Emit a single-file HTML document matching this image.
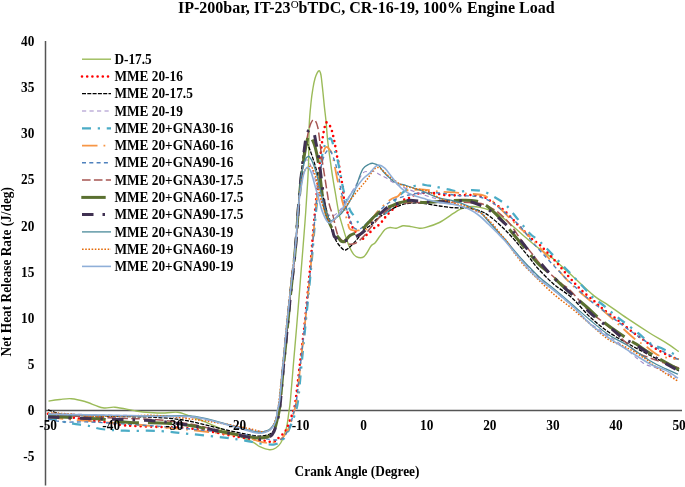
<!DOCTYPE html>
<html><head><meta charset="utf-8"><style>
html,body{margin:0;padding:0;background:#fff;overflow:hidden}
svg{display:block;filter:blur(0.35px)}
</style></head><body>
<svg width="685" height="487" viewBox="0 0 685 487">
<rect width="685" height="487" fill="#fff"/>
<text x="178" y="13.2" font-family="Liberation Serif" font-weight="bold" font-size="16" fill="#000">IP-200bar, IT-23<tspan font-size="11" font-weight="normal" dy="-5.6">O</tspan><tspan dy="5.6">bTDC, CR-16-19, 100% Engine Load</tspan></text>
<line x1="45.5" y1="41" x2="45.5" y2="485.5" stroke="#555" stroke-width="1.5"/>
<line x1="45" y1="410.5" x2="682" y2="410.5" stroke="#555" stroke-width="1.5"/>
<text transform="translate(357,476) scale(1,1.1)" font-family="Liberation Serif" font-weight="bold" font-size="13.33" text-anchor="middle">Crank Angle (Degree)</text>
<text transform="translate(10.9,271.8) rotate(-90) scale(1,1.1)" font-family="Liberation Serif" font-weight="bold" font-size="13.33" text-anchor="middle">Net Heat Release Rate (J/deg)</text>
<path d="M48.5,401.1 C50.4,400.8 56.2,399.9 60.0,399.5 C63.8,399.1 67.1,398.4 71.3,398.7 C75.5,399.0 79.8,400.0 85.0,401.5 C90.2,403.0 97.8,406.9 102.8,407.8 C107.8,408.8 109.5,406.7 115.0,407.2 C120.5,407.7 130.2,410.1 136.0,411.0 C141.8,411.9 145.2,412.2 150.0,412.5 C154.8,412.8 160.4,413.1 165.0,413.0 C169.6,412.9 173.3,411.7 177.5,412.2 C181.7,412.7 185.6,414.5 190.0,416.0 C194.4,417.5 197.1,418.5 203.8,421.3 C210.5,424.1 221.9,429.2 230.0,432.6 C238.1,436.0 247.4,439.5 252.4,441.8 C257.4,444.1 256.9,445.4 259.8,446.7 C262.7,448.0 266.9,449.6 269.6,449.8 C272.3,450.0 274.0,449.1 275.8,448.0 C277.6,446.9 279.3,445.3 280.7,443.0 C282.1,440.7 283.4,437.3 284.4,434.4 C285.4,431.5 286.2,429.3 286.9,425.8 C287.6,422.3 288.1,417.8 288.7,413.5 C289.3,409.2 289.6,408.7 290.4,400.3 C291.2,391.9 292.5,375.2 293.5,363.0 C294.5,350.8 295.6,339.5 296.6,327.2 C297.6,314.9 298.7,301.9 299.7,289.0 C300.7,276.1 301.9,261.2 302.8,250.0 C303.7,238.8 304.4,230.3 305.0,222.0 C305.6,213.7 305.9,209.6 306.5,200.0 C307.1,190.4 308.1,177.1 308.5,164.7 C308.9,152.3 308.8,136.3 309.2,125.7 C309.6,115.1 310.6,107.3 311.2,101.0 C311.8,94.7 312.4,91.8 313.0,88.0 C313.6,84.2 314.3,81.0 315.0,78.5 C315.7,76.0 316.5,74.1 317.2,72.8 C317.9,71.5 318.6,70.7 319.2,70.7 C319.8,70.7 320.1,71.8 320.5,73.0 C320.9,74.2 321.0,74.7 321.4,78.0 C321.8,81.3 322.5,88.1 323.0,92.8 C323.5,97.5 323.8,101.2 324.3,105.9 C324.8,110.6 325.4,115.1 326.0,120.8 C326.6,126.5 326.9,133.7 327.6,140.0 C328.3,146.3 329.1,152.2 330.0,158.6 C330.9,165.0 331.9,172.6 332.9,178.7 C333.8,184.8 334.8,189.4 335.7,195.0 C336.6,200.6 337.8,207.9 338.6,212.0 C339.4,216.1 339.3,215.2 340.6,219.7 C341.9,224.2 344.7,234.0 346.5,239.2 C348.3,244.4 349.8,248.0 351.4,250.9 C353.0,253.8 354.1,255.7 356.2,256.6 C358.3,257.6 361.5,258.4 364.0,256.6 C366.5,254.8 369.2,248.3 371.0,246.0 C372.8,243.7 373.5,244.7 375.0,243.0 C376.5,241.3 378.3,238.2 380.0,236.0 C381.7,233.8 383.3,230.9 385.0,229.5 C386.7,228.1 388.1,227.7 390.0,227.5 C391.9,227.3 394.2,228.5 396.3,228.2 C398.4,227.9 400.4,226.1 402.9,225.8 C405.4,225.5 408.4,226.2 411.1,226.6 C413.8,227.0 417.0,228.0 419.3,228.2 C421.6,228.4 421.6,228.5 425.0,227.6 C428.4,226.7 434.6,224.9 439.4,222.5 C444.2,220.1 450.4,215.3 453.8,213.2 C457.2,211.0 457.1,210.7 459.5,209.6 C461.9,208.5 464.8,207.1 468.2,206.7 C471.6,206.3 475.3,206.3 480.0,207.4 C484.7,208.5 490.9,210.0 496.4,213.2 C501.9,216.3 508.0,222.2 512.9,226.3 C517.8,230.4 521.5,234.0 526.0,237.8 C530.5,241.6 535.4,245.8 540.0,249.3 C544.6,252.8 548.2,254.6 553.5,259.0 C558.8,263.4 565.1,269.5 571.9,275.6 C578.7,281.8 588.0,290.9 594.1,295.9 C600.2,300.8 603.0,301.6 608.5,305.3 C614.0,309.0 619.9,313.5 626.9,318.2 C633.9,322.9 643.9,329.4 650.4,333.5 C656.9,337.6 661.1,339.7 665.8,342.7 C670.5,345.7 676.6,350.1 678.8,351.6" fill="none" stroke="#9BBB59" stroke-width="1.4" stroke-linecap="butt" stroke-linejoin="round"/>
<path d="M48.0,413.8 C51.7,414.3 63.3,415.9 70.0,417.0 C76.7,418.1 82.6,419.4 88.2,420.2 C93.8,421.0 97.3,421.0 103.4,421.9 C109.5,422.8 115.6,424.5 125.0,425.4 C134.4,426.2 148.3,426.4 160.0,427.0 C171.7,427.6 181.9,427.3 195.0,429.0 C208.1,430.7 228.0,435.2 238.8,437.0 C249.6,438.8 254.2,439.2 260.0,440.0 C265.8,440.8 270.1,442.3 273.3,441.8 C276.6,441.3 277.4,438.8 279.5,436.9 C281.6,435.0 283.8,433.8 285.7,430.7 C287.6,427.6 289.4,421.5 290.6,418.4 C291.8,415.3 292.2,415.1 293.0,412.2 C293.8,409.3 294.3,409.4 295.5,401.2 C296.7,393.0 298.5,375.4 300.0,363.0 C301.5,350.6 303.0,339.2 304.3,327.0 C305.6,314.8 306.9,301.5 308.0,290.0 C309.1,278.5 310.1,268.3 311.0,258.0 C311.9,247.7 312.7,237.3 313.5,228.0 C314.3,218.7 315.1,210.5 315.9,202.0 C316.7,193.5 317.6,185.3 318.4,177.0 C319.2,168.7 320.2,158.7 320.9,152.0 C321.6,145.3 322.2,141.0 322.8,137.0 C323.4,133.0 323.9,130.4 324.5,128.0 C325.1,125.6 325.4,122.5 326.4,122.4 C327.4,122.3 329.6,125.0 330.7,127.3 C331.8,129.6 332.5,133.1 333.2,136.0 C333.9,138.9 334.4,141.3 335.0,144.6 C335.6,147.9 336.3,152.5 336.9,155.6 C337.5,158.7 338.1,160.2 338.6,162.9 C339.1,165.6 339.5,168.7 340.0,171.6 C340.5,174.5 341.0,177.6 341.5,180.2 C342.0,182.8 342.5,184.8 342.9,187.4 C343.2,190.0 343.4,193.6 343.6,196.0 C343.9,198.4 344.0,199.8 344.4,201.7 C344.8,203.6 345.3,205.8 345.8,207.5 C346.3,209.2 346.7,210.4 347.2,211.8 C347.7,213.2 348.0,213.9 348.7,216.1 C349.4,218.3 350.3,222.4 351.4,225.0 C352.5,227.6 353.7,229.3 355.3,231.4 C356.9,233.5 359.7,236.1 361.1,237.3 C362.6,238.5 363.0,239.0 364.0,238.5 C365.0,238.0 366.0,235.3 367.0,234.3 C368.0,233.3 368.7,233.5 370.0,232.3 C371.3,231.2 373.2,228.8 374.9,227.4 C376.5,226.0 378.0,226.0 379.9,224.1 C381.8,222.2 383.7,218.9 386.4,215.9 C389.1,212.9 393.3,208.7 396.3,206.0 C399.3,203.3 402.3,200.9 404.5,199.5 C406.7,198.1 407.3,198.8 409.5,197.8 C411.7,196.8 413.9,194.5 417.7,193.7 C421.5,192.9 427.4,192.8 432.2,193.0 C437.0,193.2 441.8,194.8 446.6,195.2 C451.4,195.6 456.2,195.2 461.0,195.2 C465.8,195.2 471.6,194.9 475.4,195.2 C479.2,195.5 481.6,196.1 484.0,197.0 C486.4,197.9 487.9,199.2 490.0,200.5 C492.1,201.8 493.9,203.2 496.4,205.0 C498.8,206.8 501.1,207.7 504.7,211.0 C508.3,214.3 513.1,219.9 517.8,224.7 C522.4,229.4 529.0,236.2 532.6,239.5 C536.2,242.8 535.7,241.2 539.2,244.4 C542.7,247.7 548.7,253.7 553.5,259.0 C558.3,264.3 563.6,270.8 568.2,276.0 C572.8,281.2 576.9,285.8 581.2,290.0 C585.5,294.2 590.5,297.8 594.1,301.0 C597.7,304.2 599.0,305.8 602.9,309.0 C606.8,312.2 612.8,316.3 617.7,320.1 C622.6,323.9 628.1,328.6 632.5,332.0 C636.9,335.4 640.7,337.8 644.2,340.4 C647.7,342.9 649.9,345.0 653.5,347.3 C657.1,349.6 661.7,352.1 665.8,354.2 C669.9,356.2 676.0,358.7 678.0,359.6" fill="none" stroke="#FF0000" stroke-width="2.6" stroke-linecap="round" stroke-linejoin="round" stroke-dasharray="0 5.2"/>
<path d="M48.0,409.8 C49.0,410.2 52.0,411.3 54.0,412.0 C56.0,412.7 57.3,413.5 60.0,414.0 C62.7,414.5 63.3,414.7 70.0,415.0 C76.7,415.3 90.0,415.7 100.0,416.0 C110.0,416.3 120.8,416.5 130.0,416.7 C139.2,416.9 146.7,416.8 155.0,417.3 C163.3,417.8 172.5,418.5 180.0,419.5 C187.5,420.5 193.3,422.0 200.0,423.5 C206.7,425.0 212.5,426.8 220.0,428.5 C227.5,430.2 238.8,432.8 245.0,434.0 C251.2,435.2 253.6,435.8 257.3,436.0 C261.0,436.2 264.5,435.8 267.2,435.0 C269.9,434.2 271.7,433.6 273.3,431.0 C274.9,428.4 275.9,423.9 277.0,419.6 C278.1,415.3 278.7,414.1 279.8,405.0 C280.9,395.9 282.2,378.0 283.5,365.0 C284.8,352.0 286.1,339.5 287.3,327.0 C288.6,314.5 289.8,301.5 291.0,290.0 C292.2,278.5 293.6,267.2 294.5,258.0 C295.4,248.8 295.8,243.8 296.5,235.0 C297.2,226.2 297.9,213.8 298.6,205.0 C299.3,196.2 299.9,189.2 300.5,182.0 C301.1,174.8 301.9,167.3 302.5,162.0 C303.1,156.7 303.4,153.2 304.0,150.0 C304.6,146.8 305.3,143.8 306.0,143.0 C306.7,142.2 307.3,143.8 308.0,145.0 C308.7,146.2 308.8,146.7 310.0,150.0 C311.2,153.3 313.3,159.2 315.0,165.0 C316.7,170.8 318.5,179.2 320.0,185.0 C321.5,190.8 322.8,195.2 324.0,200.0 C325.2,204.8 326.3,209.4 327.5,214.0 C328.7,218.6 329.6,223.2 331.0,227.5 C332.4,231.8 333.9,236.6 335.7,240.0 C337.5,243.4 340.0,246.3 341.6,248.0 C343.2,249.7 344.0,250.2 345.5,250.0 C347.0,249.8 348.4,248.3 350.4,246.5 C352.3,244.7 354.9,242.0 357.2,239.2 C359.5,236.4 361.9,231.7 364.0,229.5 C366.1,227.3 367.9,227.5 370.0,225.8 C372.1,224.1 373.9,221.4 376.6,219.2 C379.3,217.0 383.4,214.5 386.4,212.6 C389.4,210.7 391.9,209.1 394.7,207.7 C397.4,206.3 400.2,205.2 402.9,204.4 C405.6,203.6 408.1,203.3 411.1,203.1 C414.1,202.9 417.9,202.9 421.0,203.1 C424.1,203.3 426.9,203.9 430.0,204.4 C433.1,204.9 435.4,205.4 439.4,206.0 C443.4,206.6 449.0,207.3 453.8,207.7 C458.6,208.0 463.6,207.5 468.2,208.1 C472.8,208.7 478.0,210.1 481.6,211.5 C485.2,212.9 486.6,213.9 489.9,216.4 C493.2,218.9 497.8,223.0 501.4,226.3 C504.9,229.6 507.9,232.6 511.2,236.2 C514.5,239.8 518.1,244.1 521.1,247.7 C524.1,251.2 526.6,254.1 529.3,257.5 C532.0,260.9 533.5,263.6 537.5,268.0 C541.5,272.4 547.8,278.9 553.5,283.9 C559.2,288.9 565.8,292.3 571.9,297.8 C578.0,303.3 583.9,311.3 590.0,317.0 C596.1,322.7 602.4,327.7 608.5,332.0 C614.6,336.3 620.8,339.5 626.9,343.0 C633.0,346.5 639.0,349.7 645.4,353.0 C651.8,356.3 659.4,360.0 665.0,363.0 C670.6,366.0 676.7,369.7 679.0,371.0" fill="none" stroke="#000000" stroke-width="1.3" stroke-linecap="butt" stroke-linejoin="round" stroke-dasharray="4 1.3"/>
<path d="M48.0,413.5 C51.7,413.6 61.3,413.8 70.0,414.0 C78.7,414.2 90.0,414.8 100.0,415.0 C110.0,415.2 120.0,415.2 130.0,415.5 C140.0,415.8 149.2,416.1 160.0,416.5 C170.8,416.9 182.5,416.4 195.0,418.0 C207.5,419.6 224.6,423.8 235.0,426.0 C245.4,428.2 251.9,430.2 257.3,431.0 C262.7,431.8 264.7,431.2 267.2,430.5 C269.7,429.8 270.7,428.8 272.1,427.0 C273.5,425.2 274.9,422.5 275.8,419.6 C276.7,416.7 277.0,412.9 277.6,409.8 C278.2,406.7 278.6,408.7 279.5,401.2 C280.4,393.7 281.8,377.2 283.0,365.0 C284.2,352.8 285.2,340.5 286.5,328.0 C287.8,315.5 289.2,301.3 290.5,290.0 C291.8,278.7 293.1,268.5 294.0,260.0 C294.9,251.5 295.2,248.3 296.0,238.8 C296.8,229.3 297.8,212.8 298.6,203.0 C299.5,193.2 300.3,186.2 301.1,180.0 C301.9,173.8 302.8,169.3 303.6,166.0 C304.4,162.7 305.1,160.7 306.0,160.0 C306.9,159.3 307.8,160.0 309.0,162.0 C310.2,164.0 311.5,167.3 313.0,172.0 C314.5,176.7 316.5,184.8 318.0,190.0 C319.5,195.2 320.5,199.2 322.0,203.0 C323.5,206.8 325.2,210.9 327.0,213.0 C328.8,215.1 330.6,216.3 332.8,215.8 C335.0,215.3 337.5,213.0 340.0,210.0 C342.5,207.0 345.3,202.2 348.0,198.0 C350.7,193.8 353.5,189.2 356.0,185.0 C358.5,180.8 361.0,175.2 363.0,173.0 C365.0,170.8 366.1,171.8 368.0,171.6 C369.9,171.3 372.2,171.0 374.2,171.5 C376.2,172.0 377.9,173.7 379.9,174.8 C381.9,175.9 383.0,176.2 386.4,178.1 C389.8,180.0 392.7,182.8 400.0,186.0 C407.3,189.2 420.8,194.0 430.0,197.0 C439.2,200.0 446.7,201.3 455.0,204.0 C463.3,206.7 474.2,210.0 480.0,213.0 C485.8,216.0 486.4,218.1 490.0,222.0 C493.6,225.9 497.6,231.6 501.4,236.2 C505.2,240.8 509.6,245.5 512.9,249.3 C516.2,253.1 516.8,254.2 521.1,259.0 C525.5,263.8 533.6,272.8 539.0,278.0 C544.4,283.2 548.0,285.3 553.5,290.0 C559.0,294.7 565.8,300.5 571.9,306.0 C578.0,311.5 582.0,316.7 590.0,323.0 C598.0,329.3 611.2,337.4 620.0,344.0 C628.8,350.6 636.6,358.7 642.7,362.7 C648.8,366.7 650.9,365.5 656.5,368.1 C662.1,370.7 673.2,376.4 676.5,378.1" fill="none" stroke="#A08AC8" stroke-width="1.1" stroke-linecap="butt" stroke-linejoin="round" stroke-dasharray="4.2 3.3"/>
<path d="M48.0,418.0 C50.0,418.5 55.8,420.1 60.0,421.0 C64.2,421.9 68.1,422.9 73.0,423.7 C77.9,424.5 84.7,425.1 89.4,426.0 C94.1,426.9 95.1,428.2 101.0,429.0 C106.9,429.8 115.2,430.4 125.0,430.7 C134.8,431.0 149.2,430.4 160.0,431.0 C170.8,431.6 178.9,432.9 190.0,434.0 C201.1,435.1 217.3,436.8 226.5,437.9 C235.7,439.0 239.9,439.8 245.0,440.6 C250.1,441.5 252.4,442.4 257.3,443.0 C262.2,443.6 270.1,445.1 274.6,444.3 C279.1,443.5 281.7,441.2 284.4,438.1 C287.1,435.0 289.0,429.5 290.6,425.8 C292.2,422.1 293.1,420.1 294.3,416.0 C295.5,411.9 296.8,409.7 298.0,401.2 C299.2,392.7 300.3,376.9 301.5,365.0 C302.7,353.1 303.8,342.5 305.0,330.0 C306.2,317.5 307.8,302.0 309.0,290.0 C310.2,278.0 311.1,268.3 312.0,258.0 C312.9,247.7 313.7,237.3 314.5,228.0 C315.3,218.7 316.2,210.3 317.0,202.0 C317.8,193.7 318.7,185.3 319.5,178.0 C320.3,170.7 321.2,162.7 321.8,158.0 C322.4,153.3 322.7,152.2 323.3,150.0 C323.9,147.8 324.4,146.3 325.2,144.6 C326.0,142.9 327.1,141.0 328.0,140.0 C328.9,139.0 329.9,138.0 330.7,138.4 C331.5,138.8 331.9,140.5 332.6,142.7 C333.3,144.9 334.1,148.3 335.0,151.4 C335.9,154.5 337.0,157.6 337.9,161.5 C338.8,165.4 339.7,170.7 340.5,175.0 C341.3,179.3 342.2,184.4 342.9,187.4 C343.5,190.4 343.7,190.8 344.4,193.1 C345.1,195.4 346.1,198.1 347.0,201.0 C347.9,203.9 349.1,208.0 350.1,210.3 C351.1,212.6 351.6,212.6 353.0,214.7 C354.4,216.8 356.4,220.7 358.2,222.6 C360.0,224.5 362.2,226.1 364.0,226.0 C365.8,225.9 367.5,223.5 369.0,222.0 C370.5,220.5 371.2,218.2 373.0,217.0 C374.8,215.8 378.0,215.6 380.0,215.0 C382.0,214.4 383.3,214.7 385.0,213.5 C386.7,212.3 387.8,210.8 390.0,208.0 C392.2,205.2 395.0,200.2 398.0,197.0 C401.0,193.8 404.4,191.1 408.0,189.0 C411.6,186.9 416.1,185.1 419.3,184.5 C422.6,183.9 424.9,185.2 427.5,185.5 C430.1,185.8 431.7,185.8 435.1,186.5 C438.5,187.2 443.9,188.6 448.0,189.4 C452.1,190.2 455.4,191.5 459.5,191.6 C463.6,191.7 468.4,190.1 472.5,190.1 C476.6,190.1 480.1,190.3 484.0,191.6 C487.9,192.9 492.4,195.9 496.0,198.0 C499.6,200.1 502.5,201.9 505.3,204.4 C508.1,206.9 508.9,208.4 512.9,213.2 C516.9,217.9 525.2,228.5 529.3,232.9 C533.4,237.3 534.7,237.0 537.5,239.5 C540.3,242.0 541.6,243.3 546.1,247.9 C550.6,252.5 558.6,261.2 564.5,267.3 C570.4,273.4 576.3,279.6 581.2,284.8 C586.1,290.0 590.8,295.6 594.1,298.7 C597.4,301.8 597.2,300.4 601.1,303.5 C605.0,306.6 611.6,312.4 617.7,317.3 C623.9,322.2 632.5,328.6 638.0,333.0 C643.5,337.4 646.5,341.0 650.4,343.5 C654.3,346.0 656.4,345.9 661.2,348.1 C666.0,350.3 676.0,355.1 679.0,356.5" fill="none" stroke="#4BACC6" stroke-width="2.25" stroke-linecap="butt" stroke-linejoin="round" stroke-dasharray="9 6.75 2.25 6.75"/>
<path d="M48.0,417.0 C51.7,417.4 61.3,418.7 70.0,419.5 C78.7,420.3 90.0,421.2 100.0,422.0 C110.0,422.8 120.0,423.2 130.0,424.0 C140.0,424.8 148.3,425.8 160.0,427.0 C171.7,428.2 186.7,429.5 200.0,431.0 C213.3,432.5 229.4,434.1 240.0,436.0 C250.6,437.9 257.5,441.4 263.5,442.4 C269.5,443.4 272.5,442.7 275.8,441.8 C279.1,440.9 281.1,438.9 283.2,436.9 C285.2,434.8 286.7,432.4 288.1,429.5 C289.5,426.6 290.4,424.5 291.8,419.6 C293.2,414.7 295.2,409.2 296.7,399.9 C298.1,390.6 299.2,376.0 300.5,364.0 C301.8,352.0 303.2,340.3 304.5,328.0 C305.8,315.7 307.3,301.7 308.5,290.0 C309.7,278.3 310.6,268.3 311.5,258.0 C312.4,247.7 313.2,237.3 314.0,228.0 C314.8,218.7 315.7,210.3 316.5,202.0 C317.3,193.7 318.2,185.0 319.0,178.0 C319.8,171.0 320.6,164.8 321.5,160.0 C322.4,155.2 323.7,151.2 324.6,149.0 C325.5,146.8 326.1,146.8 327.0,147.0 C327.9,147.2 329.1,148.8 330.0,150.0 C330.9,151.2 331.4,151.8 332.2,154.3 C332.9,156.8 333.7,160.9 334.5,165.0 C335.3,169.1 336.3,174.5 337.2,178.7 C338.1,182.9 339.3,186.6 340.1,190.2 C340.9,193.8 341.3,196.9 342.0,200.0 C342.7,203.1 343.8,206.2 344.4,208.9 C345.0,211.6 345.3,214.1 345.8,216.1 C346.3,218.1 346.9,218.9 347.5,221.0 C348.1,223.1 348.3,226.9 349.4,228.5 C350.5,230.1 352.4,230.2 354.0,230.5 C355.6,230.8 357.2,230.6 359.2,230.4 C361.2,230.2 364.0,230.9 366.0,229.5 C368.0,228.1 369.2,224.8 371.0,222.0 C372.8,219.2 373.4,216.3 376.6,212.6 C379.8,208.9 386.4,202.7 390.0,200.0 C393.6,197.3 395.8,197.7 397.9,196.2 C400.0,194.7 400.5,192.2 402.9,191.2 C405.2,190.2 408.4,190.3 412.0,190.0 C415.6,189.7 419.6,189.3 424.2,189.6 C428.8,189.9 434.5,191.1 439.4,191.6 C444.3,192.1 449.0,192.0 453.8,192.3 C458.6,192.7 463.4,193.2 468.2,193.7 C473.0,194.2 478.4,193.9 482.6,195.2 C486.8,196.5 488.7,197.8 493.2,201.6 C497.7,205.4 504.7,213.3 509.6,218.1 C514.5,222.9 518.6,226.6 522.7,230.4 C526.8,234.2 530.0,236.6 534.2,241.1 C538.4,245.6 542.2,250.5 547.9,257.2 C553.6,263.9 561.2,274.0 568.2,281.2 C575.2,288.4 584.5,295.9 590.0,300.5 C595.5,305.1 596.5,304.8 601.0,308.5 C605.5,312.2 611.5,318.0 617.0,323.0 C622.5,328.0 629.6,334.7 634.3,338.5 C639.0,342.3 641.2,343.0 645.4,345.9 C649.6,348.8 654.0,353.6 659.6,355.8 C665.2,358.0 675.8,358.5 679.0,359.0" fill="none" stroke="#F79646" stroke-width="1.8" stroke-linecap="butt" stroke-linejoin="round" stroke-dasharray="15.5 6 1.8 6"/>
<path d="M48.0,419.0 C50.6,419.5 57.4,421.4 63.7,421.9 C70.0,422.4 78.2,421.7 85.9,421.9 C93.6,422.1 101.0,422.5 110.0,423.0 C119.0,423.5 130.0,424.3 140.0,425.0 C150.0,425.7 160.0,426.2 170.0,427.0 C180.0,427.8 188.3,428.8 200.0,430.0 C211.7,431.2 229.7,432.7 240.0,434.0 C250.3,435.3 256.0,437.0 262.0,438.0 C268.0,439.0 272.5,440.0 276.0,440.0 C279.5,440.0 280.8,440.0 283.0,438.0 C285.2,436.0 287.3,431.8 289.0,428.0 C290.7,424.2 291.8,419.7 293.0,415.0 C294.2,410.3 295.2,408.5 296.5,400.0 C297.8,391.5 299.2,376.0 300.5,364.0 C301.8,352.0 303.2,340.3 304.5,328.0 C305.8,315.7 307.3,301.7 308.5,290.0 C309.7,278.3 310.6,268.3 311.5,258.0 C312.4,247.7 313.2,237.3 314.0,228.0 C314.8,218.7 315.7,210.0 316.5,202.0 C317.3,194.0 318.2,186.2 319.0,180.0 C319.8,173.8 320.6,169.2 321.5,165.0 C322.4,160.8 323.4,157.5 324.5,155.0 C325.6,152.5 326.9,150.5 328.0,150.0 C329.1,149.5 330.1,150.7 331.0,152.0 C331.9,153.3 332.7,155.9 333.5,158.0 C334.3,160.1 334.8,161.4 335.7,164.4 C336.6,167.4 337.9,172.6 338.6,175.9 C339.3,179.2 339.5,181.6 340.0,184.5 C340.5,187.4 340.9,190.7 341.5,193.1 C342.1,195.5 342.7,196.1 343.6,198.9 C344.5,201.7 345.9,206.5 347.0,210.0 C348.1,213.5 348.8,217.0 350.0,220.0 C351.2,223.0 352.6,226.5 354.3,228.0 C356.0,229.5 357.7,230.0 360.0,229.0 C362.3,228.0 365.0,224.8 368.0,222.0 C371.0,219.2 374.3,215.3 378.0,212.0 C381.7,208.7 385.5,204.7 390.0,202.0 C394.5,199.3 400.0,197.5 405.0,196.0 C410.0,194.5 414.3,193.5 420.0,193.0 C425.7,192.5 433.1,192.6 439.4,193.0 C445.7,193.4 451.5,194.9 457.8,195.5 C464.1,196.1 471.6,195.6 477.0,196.5 C482.4,197.4 486.5,199.2 490.0,201.0 C493.5,202.8 493.3,203.2 498.0,207.0 C502.7,210.8 511.8,217.7 518.0,224.0 C524.2,230.3 527.5,236.5 535.0,245.0 C542.5,253.5 553.8,266.0 562.7,275.0 C571.6,284.0 582.7,293.8 588.5,299.0 C594.3,304.2 591.0,301.1 597.4,306.0 C603.8,310.9 618.1,322.1 626.9,328.4 C635.7,334.7 641.3,338.7 650.0,344.0 C658.7,349.3 674.2,357.3 679.0,360.0" fill="none" stroke="#4F81BD" stroke-width="1.4" stroke-linecap="butt" stroke-linejoin="round" stroke-dasharray="4 3.3"/>
<path d="M48.0,415.0 C51.7,415.2 61.3,415.6 70.0,416.0 C78.7,416.4 90.0,417.1 100.0,417.5 C110.0,417.9 120.0,418.1 130.0,418.5 C140.0,418.9 150.0,419.1 160.0,420.0 C170.0,420.9 180.8,422.4 190.0,424.0 C199.2,425.6 205.8,427.6 215.0,429.5 C224.2,431.4 237.9,434.2 245.0,435.5 C252.1,436.8 253.6,437.3 257.3,437.5 C261.0,437.7 264.5,437.4 267.2,436.5 C269.9,435.6 271.7,434.8 273.3,432.0 C274.9,429.2 275.9,424.3 277.0,420.0 C278.1,415.7 278.7,415.0 279.8,406.0 C280.9,397.0 282.2,379.0 283.5,366.0 C284.8,353.0 286.1,340.7 287.3,328.0 C288.6,315.3 289.8,301.7 291.0,290.0 C292.2,278.3 293.6,267.2 294.5,258.0 C295.4,248.8 295.8,243.8 296.5,235.0 C297.2,226.2 297.9,213.3 298.6,205.0 C299.3,196.7 299.8,191.7 300.5,185.0 C301.2,178.3 302.1,171.7 303.0,165.0 C303.9,158.3 305.1,150.7 306.0,145.0 C306.9,139.3 307.7,134.7 308.5,131.0 C309.3,127.3 310.2,124.8 311.0,123.0 C311.8,121.2 312.4,120.2 313.2,119.9 C313.9,119.6 314.7,119.8 315.5,121.0 C316.3,122.2 317.1,124.2 317.8,127.3 C318.5,130.4 319.0,134.9 319.6,139.6 C320.2,144.3 320.8,150.2 321.5,155.6 C322.2,161.0 323.1,166.3 324.0,172.0 C324.9,177.7 325.9,184.4 326.8,190.0 C327.7,195.6 328.4,201.0 329.5,205.4 C330.6,209.8 332.1,212.4 333.2,216.4 C334.3,220.4 335.1,225.9 336.0,229.3 C336.9,232.7 337.5,234.8 338.7,236.7 C339.9,238.6 341.4,239.8 343.0,241.0 C344.6,242.2 346.2,243.7 348.4,244.0 C350.6,244.3 353.4,244.3 356.0,243.0 C358.6,241.7 361.3,238.8 364.0,236.0 C366.7,233.2 368.5,230.0 372.0,226.0 C375.5,222.0 380.3,215.7 385.0,212.0 C389.7,208.3 392.5,205.7 400.0,204.0 C407.5,202.3 420.8,202.3 430.0,202.0 C439.2,201.7 447.4,201.8 455.0,202.0 C462.6,202.2 470.6,202.7 475.4,203.1 C480.2,203.5 480.2,203.0 484.0,204.5 C487.8,206.0 493.8,209.1 498.1,212.3 C502.4,215.6 506.2,219.4 510.0,224.0 C513.8,228.6 517.6,235.2 521.1,240.0 C524.6,244.8 527.7,248.2 531.2,252.6 C534.8,257.0 537.5,261.3 542.4,266.4 C547.3,271.5 556.2,279.0 560.8,283.0 C565.4,287.0 565.2,285.6 570.1,290.4 C575.0,295.2 584.5,306.8 590.0,312.0 C595.5,317.2 597.9,317.7 602.9,321.9 C607.9,326.1 614.4,332.0 620.0,337.0 C625.6,342.0 631.4,348.4 636.5,351.9 C641.6,355.4 643.3,355.4 650.4,358.1 C657.5,360.8 674.2,366.4 679.0,368.0" fill="none" stroke="#A65552" stroke-width="1.5" stroke-linecap="butt" stroke-linejoin="round" stroke-dasharray="8.6 3.3"/>
<path d="M48.0,416.5 C51.7,416.7 61.3,417.1 70.0,417.5 C78.7,417.9 90.0,418.2 100.0,419.0 C110.0,419.8 120.0,421.8 130.0,422.5 C140.0,423.2 150.0,422.5 160.0,423.0 C170.0,423.5 180.8,424.2 190.0,425.5 C199.2,426.8 205.8,428.8 215.0,430.5 C224.2,432.2 237.9,434.8 245.0,436.0 C252.1,437.2 253.6,437.8 257.3,438.0 C261.0,438.2 264.5,437.9 267.2,437.0 C269.9,436.1 271.7,435.2 273.3,432.5 C274.9,429.8 275.9,424.9 277.0,420.5 C278.1,416.1 278.7,415.1 279.8,406.0 C280.9,396.9 282.2,379.0 283.5,366.0 C284.8,353.0 286.1,340.7 287.3,328.0 C288.6,315.3 289.8,301.7 291.0,290.0 C292.2,278.3 293.6,267.2 294.5,258.0 C295.4,248.8 295.8,243.8 296.5,235.0 C297.2,226.2 297.9,213.3 298.6,205.0 C299.3,196.7 299.9,191.2 300.5,185.0 C301.1,178.8 301.8,173.5 302.5,168.0 C303.2,162.5 304.1,156.5 304.9,152.0 C305.6,147.5 306.3,143.8 307.0,141.0 C307.7,138.2 308.2,135.0 309.2,135.0 C310.2,135.0 311.9,138.8 312.9,140.9 C313.9,143.0 314.5,144.5 315.3,147.6 C316.1,150.7 316.9,153.9 317.8,159.3 C318.7,164.7 319.6,173.2 320.5,180.0 C321.4,186.8 322.1,194.5 323.0,200.0 C323.9,205.5 325.0,209.3 326.0,213.0 C327.0,216.7 327.8,219.2 329.0,222.0 C330.2,224.8 331.4,227.3 333.0,230.0 C334.6,232.7 337.3,236.1 338.7,238.0 C340.1,239.9 340.5,241.0 341.5,241.5 C342.5,242.0 343.0,242.2 344.5,241.2 C346.0,240.2 348.3,236.8 350.4,235.3 C352.5,233.8 354.9,233.7 357.2,232.4 C359.5,231.1 361.3,230.0 364.0,227.5 C366.7,225.0 370.1,220.5 373.3,217.5 C376.5,214.5 380.2,211.2 383.2,209.3 C386.2,207.4 388.7,207.1 391.4,206.0 C394.1,204.9 396.6,203.5 399.6,202.7 C402.6,201.9 405.4,201.1 409.5,201.1 C413.6,201.1 418.0,202.4 424.2,202.4 C430.4,202.4 440.2,201.3 446.6,200.9 C453.0,200.5 457.6,200.2 462.4,200.2 C467.2,200.2 471.4,200.0 475.4,200.9 C479.4,201.8 482.3,202.7 486.6,205.8 C490.9,208.9 497.6,215.7 501.4,219.7 C505.2,223.7 506.9,226.3 509.6,229.6 C512.3,232.9 513.1,233.9 517.8,239.5 C522.4,245.1 532.5,257.6 537.5,263.0 C542.5,268.4 543.1,267.5 547.9,271.9 C552.7,276.3 559.9,283.6 566.4,289.5 C572.9,295.4 580.9,301.9 586.7,307.0 C592.5,312.1 595.3,315.5 601.1,320.1 C606.9,324.7 615.5,330.8 621.4,334.8 C627.2,338.8 631.4,341.0 636.2,344.1 C641.0,347.2 644.5,349.9 650.4,353.5 C656.3,357.1 667.1,363.1 671.9,365.8 C676.7,368.5 677.8,369.0 679.0,369.6" fill="none" stroke="#5A7030" stroke-width="3.0" stroke-linecap="butt" stroke-linejoin="round" stroke-dasharray="24.4 9"/>
<path d="M48.0,417.0 C51.7,417.2 61.3,417.7 70.0,418.0 C78.7,418.3 87.8,418.6 100.0,419.0 C112.2,419.4 131.3,419.6 143.0,420.2 C154.7,420.8 160.5,421.4 170.0,422.5 C179.5,423.6 191.7,425.5 200.0,427.0 C208.3,428.5 212.5,429.9 220.0,431.5 C227.5,433.1 238.8,435.3 245.0,436.5 C251.2,437.7 254.4,438.3 257.3,438.8 C260.2,439.3 260.1,439.7 262.2,439.4 C264.2,439.1 267.6,438.2 269.6,436.9 C271.6,435.6 272.7,434.3 274.0,431.5 C275.3,428.7 276.5,424.2 277.5,420.0 C278.5,415.8 279.0,415.0 280.0,406.0 C281.0,397.0 282.3,379.0 283.5,366.0 C284.7,353.0 286.1,340.7 287.3,328.0 C288.6,315.3 289.8,301.7 291.0,290.0 C292.2,278.3 293.6,267.2 294.5,258.0 C295.4,248.8 295.8,243.8 296.5,235.0 C297.2,226.2 297.9,213.7 298.6,205.0 C299.3,196.3 299.9,189.7 300.5,183.0 C301.1,176.3 301.8,171.3 302.5,165.0 C303.2,158.7 304.2,150.0 304.9,145.0 C305.6,140.0 306.0,137.5 306.7,135.0 C307.4,132.5 308.1,130.8 309.0,130.0 C309.9,129.2 311.1,129.9 312.0,130.5 C312.9,131.1 313.4,131.4 314.1,133.5 C314.8,135.6 315.4,139.9 316.0,143.0 C316.6,146.1 317.1,147.8 317.8,152.0 C318.5,156.2 319.3,162.5 320.0,168.0 C320.7,173.5 321.4,179.4 322.1,185.0 C322.8,190.6 323.4,197.4 324.0,201.7 C324.6,206.0 325.0,207.8 325.8,210.9 C326.6,214.0 327.9,216.9 329.0,220.0 C330.1,223.1 331.4,226.6 332.3,229.3 C333.2,232.0 333.4,234.5 334.1,236.0 C334.8,237.5 335.6,237.5 336.7,238.5 C337.8,239.5 338.7,241.8 340.6,242.0 C342.5,242.2 344.7,241.3 348.0,240.0 C351.3,238.7 356.6,236.7 360.2,234.3 C363.8,231.9 366.6,228.8 369.9,225.5 C373.2,222.2 376.6,217.4 379.9,214.2 C383.2,210.9 385.9,207.9 389.7,206.0 C393.5,204.1 399.6,203.6 402.9,202.7 C406.2,201.8 404.6,200.4 409.5,200.3 C414.4,200.2 422.7,201.9 432.0,202.0 C441.3,202.1 457.0,200.2 465.3,200.9 C473.6,201.6 477.0,203.9 481.6,206.0 C486.2,208.1 487.7,208.7 493.2,213.2 C498.7,217.7 507.9,225.8 514.5,232.9 C521.1,240.0 528.6,251.2 532.6,255.9 C536.6,260.6 534.9,257.2 538.4,260.8 C541.9,264.4 547.3,271.3 553.5,277.5 C559.7,283.7 569.5,291.9 575.6,297.8 C581.7,303.7 585.8,308.7 590.0,312.7 C594.2,316.7 597.4,319.1 601.1,321.9 C604.8,324.7 608.5,326.5 612.2,329.3 C615.9,332.1 619.5,336.0 623.2,338.5 C626.9,341.0 629.2,341.1 634.3,344.1 C639.3,347.1 646.5,352.2 653.5,356.5 C660.5,360.8 672.7,367.4 676.5,369.6" fill="none" stroke="#403152" stroke-width="3.0" stroke-linecap="butt" stroke-linejoin="round" stroke-dasharray="11.5 9 2.5 9"/>
<path d="M48.0,414.5 C51.7,414.6 61.3,414.8 70.0,415.0 C78.7,415.2 90.0,415.3 100.0,415.5 C110.0,415.7 120.0,415.9 130.0,416.0 C140.0,416.1 149.2,415.9 160.0,416.0 C170.8,416.1 182.5,414.8 195.0,416.5 C207.5,418.2 224.6,423.9 235.0,426.5 C245.4,429.1 251.9,431.3 257.3,432.0 C262.7,432.7 264.7,431.3 267.2,430.5 C269.7,429.7 270.7,428.8 272.1,427.0 C273.5,425.2 274.9,422.5 275.8,419.6 C276.7,416.7 277.0,412.9 277.6,409.8 C278.2,406.7 278.6,408.7 279.5,401.2 C280.4,393.7 281.8,377.2 283.0,365.0 C284.2,352.8 285.2,340.5 286.5,328.0 C287.8,315.5 289.2,301.3 290.5,290.0 C291.8,278.7 293.1,268.5 294.0,260.0 C294.9,251.5 295.2,248.5 296.0,238.8 C296.8,229.1 297.8,212.0 298.6,201.7 C299.5,191.4 300.3,183.1 301.1,177.0 C301.9,170.9 302.9,168.0 303.6,165.0 C304.3,162.0 304.9,160.3 305.5,159.0 C306.1,157.7 306.8,157.4 307.4,157.0 C308.0,156.6 308.3,155.5 309.2,156.5 C310.1,157.5 311.7,160.0 312.9,162.9 C314.1,165.8 315.4,169.4 316.6,174.0 C317.8,178.6 319.1,185.4 320.3,190.6 C321.5,195.8 322.8,201.1 324.0,205.4 C325.2,209.7 326.6,213.8 327.7,216.4 C328.8,219.0 329.3,220.6 330.4,221.0 C331.5,221.4 332.5,220.3 334.4,219.0 C336.3,217.7 339.2,215.8 341.6,213.2 C344.0,210.5 346.6,206.7 348.7,203.1 C350.8,199.5 352.8,195.7 354.5,191.6 C356.2,187.5 357.4,182.5 358.8,178.7 C360.2,174.9 361.4,171.0 363.1,168.6 C364.8,166.2 367.2,165.2 368.9,164.3 C370.6,163.4 371.4,163.1 373.1,163.3 C374.8,163.6 377.2,164.4 378.9,165.8 C380.6,167.2 381.4,169.4 383.2,171.5 C385.0,173.6 387.5,176.2 389.7,178.1 C391.9,180.0 393.6,181.8 396.3,183.0 C399.1,184.2 402.9,184.5 406.2,185.5 C409.5,186.5 413.3,187.9 416.0,188.8 C418.7,189.8 420.3,190.2 422.6,191.2 C424.9,192.1 427.2,193.3 430.0,194.5 C432.8,195.7 435.4,197.0 439.4,198.1 C443.4,199.2 449.0,199.6 453.8,200.9 C458.6,202.2 463.8,204.2 468.2,206.0 C472.6,207.8 476.7,209.5 480.0,212.0 C483.3,214.5 485.5,218.0 488.2,221.0 C490.9,224.0 493.6,227.0 496.4,230.0 C499.1,233.0 501.9,235.8 504.7,239.0 C507.4,242.2 510.2,245.8 512.9,249.0 C515.6,252.2 518.4,255.5 521.1,258.5 C523.8,261.5 526.3,263.9 529.3,267.0 C532.3,270.1 535.2,273.4 539.2,277.0 C543.2,280.6 548.0,284.0 553.5,288.5 C559.0,293.0 565.8,298.9 571.9,304.2 C578.0,309.4 583.9,314.9 590.0,320.0 C596.1,325.1 602.4,330.6 608.5,334.8 C614.6,339.0 619.9,340.6 626.9,345.0 C633.9,349.4 643.9,357.0 650.4,361.0 C656.9,365.0 661.2,366.6 665.8,368.8 C670.4,371.0 676.0,373.3 678.0,374.2" fill="none" stroke="#4A8A9A" stroke-width="1.3" stroke-linecap="butt" stroke-linejoin="round"/>
<path d="M48.0,413.0 C51.4,413.1 61.1,413.3 68.4,413.8 C75.7,414.3 82.3,415.7 91.7,416.1 C101.1,416.5 113.6,416.2 125.0,416.1 C136.4,416.0 145.4,414.7 160.0,415.7 C174.6,416.7 197.9,419.9 212.5,422.0 C227.1,424.1 239.4,426.7 247.6,428.3 C255.8,429.9 258.4,431.3 261.6,431.8 C264.8,432.3 265.3,432.2 267.0,431.5 C268.7,430.8 270.5,429.8 272.0,427.5 C273.5,425.2 274.9,421.8 276.0,418.0 C277.1,414.2 277.4,413.3 278.5,405.0 C279.6,396.7 281.2,380.5 282.5,368.0 C283.8,355.5 284.8,342.7 286.0,330.0 C287.2,317.3 288.8,303.3 290.0,292.0 C291.2,280.7 292.5,270.7 293.5,262.0 C294.5,253.3 295.1,249.5 296.0,240.0 C296.9,230.5 297.7,214.7 298.6,205.0 C299.5,195.3 300.6,187.5 301.5,182.0 C302.4,176.5 303.1,174.3 304.0,172.0 C304.9,169.7 305.8,168.9 307.0,168.0 C308.2,167.1 309.8,165.6 311.1,166.6 C312.4,167.6 313.6,170.3 314.8,174.0 C316.0,177.7 317.3,183.8 318.5,188.7 C319.7,193.6 320.9,199.2 322.1,203.5 C323.3,207.8 324.6,211.5 325.8,214.6 C327.0,217.7 328.3,220.9 329.5,222.0 C330.7,223.1 331.5,222.2 333.0,221.0 C334.5,219.8 336.6,217.1 338.7,214.6 C340.8,212.1 343.3,209.3 345.9,206.0 C348.5,202.7 351.9,197.8 354.5,194.5 C357.1,191.2 359.6,188.5 361.7,185.9 C363.8,183.3 365.7,181.3 367.4,179.0 C369.1,176.7 370.6,173.8 372.0,172.0 C373.4,170.2 374.7,168.6 376.0,168.0 C377.3,167.4 378.3,167.2 380.0,168.2 C381.7,169.2 383.9,171.9 386.4,174.0 C388.8,176.1 391.9,178.6 394.7,180.5 C397.4,182.4 399.9,184.2 402.9,185.5 C405.9,186.8 409.1,187.2 412.7,188.0 C416.2,188.8 421.3,189.7 424.2,190.4 C427.1,191.1 427.5,190.7 430.0,192.0 C432.5,193.3 435.4,196.2 439.4,198.1 C443.4,199.9 449.5,201.8 453.8,203.1 C458.1,204.4 462.0,204.9 465.3,206.0 C468.6,207.1 471.4,208.5 473.9,209.6 C476.3,210.7 477.9,210.9 480.0,212.3 C482.1,213.7 484.4,216.0 486.6,218.1 C488.8,220.2 491.0,222.2 493.2,224.7 C495.4,227.2 497.2,229.9 499.7,232.9 C502.1,235.9 505.7,239.7 507.9,242.7 C510.1,245.7 511.2,248.5 512.9,251.0 C514.5,253.5 515.9,255.0 517.8,257.5 C519.7,260.0 522.2,263.3 524.4,265.8 C526.6,268.3 529.1,270.4 531.0,272.3 C532.9,274.2 532.1,273.7 535.9,277.3 C539.6,280.9 547.5,288.8 553.5,294.0 C559.5,299.2 565.8,303.5 571.9,308.5 C578.0,313.5 583.9,318.8 590.0,324.0 C596.1,329.2 602.4,335.5 608.5,339.5 C614.6,343.5 620.8,344.6 626.9,347.8 C633.0,351.0 641.5,356.3 645.4,358.8 C649.3,361.3 647.0,360.6 650.4,363.0 C653.8,365.4 661.2,370.5 665.8,373.5 C670.4,376.5 676.0,379.9 678.0,381.2" fill="none" stroke="#E46C0A" stroke-width="1.5" stroke-linecap="butt" stroke-linejoin="round" stroke-dasharray="1.6 1.6"/>
<path d="M48.0,414.0 C51.7,414.1 61.3,414.3 70.0,414.5 C78.7,414.7 90.0,414.8 100.0,415.0 C110.0,415.2 120.0,415.2 130.0,415.5 C140.0,415.8 149.2,416.2 160.0,416.5 C170.8,416.8 182.5,415.2 195.0,417.0 C207.5,418.8 224.6,424.3 235.0,427.0 C245.4,429.7 251.9,432.2 257.3,433.0 C262.7,433.8 264.7,432.3 267.2,431.5 C269.7,430.7 270.7,429.8 272.1,428.0 C273.5,426.2 274.9,423.5 275.8,420.5 C276.7,417.5 277.0,413.2 277.6,410.0 C278.2,406.8 278.6,408.7 279.5,401.2 C280.4,393.7 281.8,377.2 283.0,365.0 C284.2,352.8 285.2,340.5 286.5,328.0 C287.8,315.5 289.2,301.3 290.5,290.0 C291.8,278.7 293.1,268.3 294.0,260.0 C294.9,251.7 295.2,249.2 296.0,240.0 C296.8,230.8 297.7,214.2 298.6,205.0 C299.5,195.8 300.6,190.3 301.5,185.0 C302.4,179.7 303.0,176.0 304.0,173.0 C305.0,170.0 306.2,167.3 307.4,167.2 C308.6,167.0 309.9,169.1 311.1,172.1 C312.3,175.1 313.6,180.8 314.8,185.1 C316.0,189.4 317.3,193.7 318.5,198.0 C319.7,202.3 320.6,206.9 322.1,210.9 C323.6,214.9 326.1,220.2 327.7,222.0 C329.3,223.8 329.7,223.0 331.5,221.8 C333.3,220.6 336.3,217.7 338.7,214.6 C341.1,211.5 343.8,206.7 345.9,203.1 C348.0,199.5 349.7,195.8 351.6,193.0 C353.5,190.2 355.5,188.4 357.4,186.0 C359.3,183.6 361.0,180.9 363.1,178.7 C365.2,176.5 368.2,174.7 370.0,172.9 C371.8,171.1 372.6,169.3 374.0,168.0 C375.4,166.7 376.7,165.0 378.5,165.0 C380.3,165.0 382.7,166.3 384.8,168.2 C386.9,170.1 389.2,173.7 391.4,176.4 C393.6,179.2 396.0,182.5 397.9,184.7 C399.8,186.9 401.0,188.1 402.9,189.6 C404.8,191.1 407.3,192.6 409.5,193.7 C411.7,194.8 413.6,195.4 416.0,196.2 C418.4,197.0 421.9,197.9 424.2,198.6 C426.5,199.3 427.5,199.7 430.0,200.3 C432.5,200.9 435.4,201.7 439.4,202.4 C443.4,203.1 449.0,203.4 453.8,204.5 C458.6,205.6 463.9,206.9 468.2,208.8 C472.5,210.7 476.4,213.5 479.7,216.0 C483.0,218.5 485.4,221.3 488.2,224.0 C491.0,226.7 493.6,229.2 496.4,232.0 C499.1,234.8 501.9,237.4 504.7,240.5 C507.4,243.6 510.2,247.1 512.9,250.3 C515.6,253.6 518.4,256.7 521.1,260.0 C523.8,263.3 526.3,266.8 529.3,270.0 C532.3,273.2 535.2,276.2 539.2,279.5 C543.2,282.8 548.0,285.7 553.5,290.0 C559.0,294.3 565.8,299.9 571.9,305.5 C578.0,311.1 583.9,318.4 590.0,323.8 C596.1,329.2 602.4,333.3 608.5,337.6 C614.6,341.9 619.9,345.2 626.9,349.6 C633.9,354.0 643.9,360.7 650.4,364.2 C656.9,367.7 661.2,368.1 665.8,370.4 C670.4,372.7 676.0,376.8 678.0,378.1" fill="none" stroke="#8FAFD8" stroke-width="1.6" stroke-linecap="butt" stroke-linejoin="round"/>
<text transform="translate(34.3,461.2) scale(1,1.1)" font-family="Liberation Serif" font-weight="bold" font-size="13.33" text-anchor="end">-5</text>
<text transform="translate(34.3,415.1) scale(1,1.1)" font-family="Liberation Serif" font-weight="bold" font-size="13.33" text-anchor="end">0</text>
<text transform="translate(34.3,369.0) scale(1,1.1)" font-family="Liberation Serif" font-weight="bold" font-size="13.33" text-anchor="end">5</text>
<text transform="translate(34.3,322.8) scale(1,1.1)" font-family="Liberation Serif" font-weight="bold" font-size="13.33" text-anchor="end">10</text>
<text transform="translate(34.3,276.7) scale(1,1.1)" font-family="Liberation Serif" font-weight="bold" font-size="13.33" text-anchor="end">15</text>
<text transform="translate(34.3,230.6) scale(1,1.1)" font-family="Liberation Serif" font-weight="bold" font-size="13.33" text-anchor="end">20</text>
<text transform="translate(34.3,184.4) scale(1,1.1)" font-family="Liberation Serif" font-weight="bold" font-size="13.33" text-anchor="end">25</text>
<text transform="translate(34.3,138.3) scale(1,1.1)" font-family="Liberation Serif" font-weight="bold" font-size="13.33" text-anchor="end">30</text>
<text transform="translate(34.3,92.2) scale(1,1.1)" font-family="Liberation Serif" font-weight="bold" font-size="13.33" text-anchor="end">35</text>
<text transform="translate(34.3,46.0) scale(1,1.1)" font-family="Liberation Serif" font-weight="bold" font-size="13.33" text-anchor="end">40</text>
<text transform="translate(48.1,429.9) scale(1,1.1)" font-family="Liberation Serif" font-weight="bold" font-size="13.33" text-anchor="middle">-50</text>
<text transform="translate(111.2,429.9) scale(1,1.1)" font-family="Liberation Serif" font-weight="bold" font-size="13.33" text-anchor="middle">-40</text>
<text transform="translate(174.3,429.9) scale(1,1.1)" font-family="Liberation Serif" font-weight="bold" font-size="13.33" text-anchor="middle">-30</text>
<text transform="translate(237.4,429.9) scale(1,1.1)" font-family="Liberation Serif" font-weight="bold" font-size="13.33" text-anchor="middle">-20</text>
<text transform="translate(300.5,429.9) scale(1,1.1)" font-family="Liberation Serif" font-weight="bold" font-size="13.33" text-anchor="middle">-10</text>
<text transform="translate(363.6,429.9) scale(1,1.1)" font-family="Liberation Serif" font-weight="bold" font-size="13.33" text-anchor="middle">0</text>
<text transform="translate(426.7,429.9) scale(1,1.1)" font-family="Liberation Serif" font-weight="bold" font-size="13.33" text-anchor="middle">10</text>
<text transform="translate(489.8,429.9) scale(1,1.1)" font-family="Liberation Serif" font-weight="bold" font-size="13.33" text-anchor="middle">20</text>
<text transform="translate(552.9,429.9) scale(1,1.1)" font-family="Liberation Serif" font-weight="bold" font-size="13.33" text-anchor="middle">30</text>
<text transform="translate(616.0,429.9) scale(1,1.1)" font-family="Liberation Serif" font-weight="bold" font-size="13.33" text-anchor="middle">40</text>
<text transform="translate(679.1,429.9) scale(1,1.1)" font-family="Liberation Serif" font-weight="bold" font-size="13.33" text-anchor="middle">50</text>
<line x1="82" y1="59.2" x2="111" y2="59.2" fill="none" stroke="#9BBB59" stroke-width="1.4" stroke-linecap="butt" stroke-linejoin="round"/>
<text transform="translate(114.4,63.8) scale(1,1.1)" font-family="Liberation Serif" font-weight="bold" font-size="13.33">D-17.5</text>
<line x1="82" y1="76.5" x2="111" y2="76.5" fill="none" stroke="#FF0000" stroke-width="2.6" stroke-linecap="round" stroke-linejoin="round" stroke-dasharray="0 5.2"/>
<text transform="translate(114.4,81.1) scale(1,1.1)" font-family="Liberation Serif" font-weight="bold" font-size="13.33">MME 20-16</text>
<line x1="82" y1="93.7" x2="111" y2="93.7" fill="none" stroke="#000000" stroke-width="1.3" stroke-linecap="butt" stroke-linejoin="round" stroke-dasharray="4 1.3"/>
<text transform="translate(114.4,98.3) scale(1,1.1)" font-family="Liberation Serif" font-weight="bold" font-size="13.33">MME 20-17.5</text>
<line x1="82" y1="111.0" x2="111" y2="111.0" fill="none" stroke="#A08AC8" stroke-width="1.1" stroke-linecap="butt" stroke-linejoin="round" stroke-dasharray="4.2 3.3"/>
<text transform="translate(114.4,115.6) scale(1,1.1)" font-family="Liberation Serif" font-weight="bold" font-size="13.33">MME 20-19</text>
<line x1="82" y1="128.3" x2="111" y2="128.3" fill="none" stroke="#4BACC6" stroke-width="2.25" stroke-linecap="butt" stroke-linejoin="round" stroke-dasharray="9 6.75 2.25 6.75"/>
<text transform="translate(114.4,132.9) scale(1,1.1)" font-family="Liberation Serif" font-weight="bold" font-size="13.33">MME 20+GNA30-16</text>
<line x1="82" y1="145.6" x2="111" y2="145.6" fill="none" stroke="#F79646" stroke-width="1.8" stroke-linecap="butt" stroke-linejoin="round" stroke-dasharray="15.5 6 1.8 6"/>
<text transform="translate(114.4,150.2) scale(1,1.1)" font-family="Liberation Serif" font-weight="bold" font-size="13.33">MME 20+GNA60-16</text>
<line x1="82" y1="162.8" x2="111" y2="162.8" fill="none" stroke="#4F81BD" stroke-width="1.4" stroke-linecap="butt" stroke-linejoin="round" stroke-dasharray="4 3.3"/>
<text transform="translate(114.4,167.4) scale(1,1.1)" font-family="Liberation Serif" font-weight="bold" font-size="13.33">MME 20+GNA90-16</text>
<line x1="82" y1="180.1" x2="111" y2="180.1" fill="none" stroke="#A65552" stroke-width="1.5" stroke-linecap="butt" stroke-linejoin="round" stroke-dasharray="8.6 3.3"/>
<text transform="translate(114.4,184.7) scale(1,1.1)" font-family="Liberation Serif" font-weight="bold" font-size="13.33">MME 20+GNA30-17.5</text>
<line x1="81.3" y1="197.4" x2="111" y2="197.4" fill="none" stroke="#5A7030" stroke-width="3.0" stroke-linecap="butt" stroke-linejoin="round" stroke-dasharray="24.4 9"/>
<text transform="translate(114.4,202.0) scale(1,1.1)" font-family="Liberation Serif" font-weight="bold" font-size="13.33">MME 20+GNA60-17.5</text>
<line x1="82" y1="214.6" x2="111" y2="214.6" fill="none" stroke="#403152" stroke-width="3.0" stroke-linecap="butt" stroke-linejoin="round" stroke-dasharray="11.5 9 2.5 9"/>
<text transform="translate(114.4,219.2) scale(1,1.1)" font-family="Liberation Serif" font-weight="bold" font-size="13.33">MME 20+GNA90-17.5</text>
<line x1="82" y1="231.9" x2="111" y2="231.9" fill="none" stroke="#4A8A9A" stroke-width="1.3" stroke-linecap="butt" stroke-linejoin="round"/>
<text transform="translate(114.4,236.5) scale(1,1.1)" font-family="Liberation Serif" font-weight="bold" font-size="13.33">MME 20+GNA30-19</text>
<line x1="82" y1="249.2" x2="111" y2="249.2" fill="none" stroke="#E46C0A" stroke-width="1.5" stroke-linecap="butt" stroke-linejoin="round" stroke-dasharray="1.6 1.6"/>
<text transform="translate(114.4,253.8) scale(1,1.1)" font-family="Liberation Serif" font-weight="bold" font-size="13.33">MME 20+GNA60-19</text>
<line x1="82" y1="266.4" x2="111" y2="266.4" fill="none" stroke="#8FAFD8" stroke-width="1.6" stroke-linecap="butt" stroke-linejoin="round"/>
<text transform="translate(114.4,271.0) scale(1,1.1)" font-family="Liberation Serif" font-weight="bold" font-size="13.33">MME 20+GNA90-19</text>
</svg>
</body></html>
